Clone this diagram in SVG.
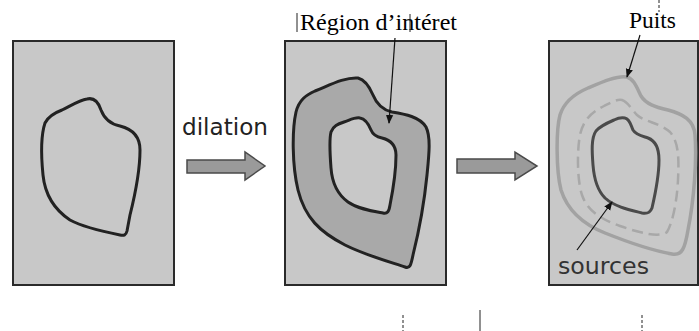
<svg xmlns="http://www.w3.org/2000/svg" width="699" height="331" viewBox="0 0 699 331">
<style>
.panel{fill:#c8c8c8;stroke:#2a2a2a;stroke-width:2}
.dark{fill:none;stroke:#222;stroke-width:3;stroke-linejoin:round}
.block{fill:#9a9a9a;stroke:#4a4a4a;stroke-width:1.5}
.serif{font-family:"Liberation Serif","Times New Roman",serif;font-size:24px;fill:#000}
.sans{font-family:"DejaVu Sans",Verdana,sans-serif;font-size:23px}
.lead{stroke:#111;stroke-width:1.2;fill:none;marker-end:url(#ah)}
.tick{stroke:#222;stroke-width:1}
</style>
<defs>
<marker id="ah" viewBox="0 0 10 10" refX="9" refY="5" markerWidth="9" markerHeight="9" markerUnits="userSpaceOnUse" orient="auto">
<path d="M0,1 L10,5 L0,9 Z" fill="#111"/>
</marker>
</defs>
<rect width="699" height="331" fill="#fff"/>

<g id="panel1">
<rect class="panel" x="13" y="41" width="161" height="244"/>
<path class="dark" d="M 87,99 C 95,97 99,104 101,110 C 104,118 110,124 120,126 C 132,129 140,136 140,150 C 140,170 135,195 130,215 L 127,231 C 126,235 124,236 120,235 C 105,232 85,228 70,220 C 55,210 45,195 43,175 C 41,155 41,135 45,123 C 48,117 54,113 62,110 C 72,105 80,100 87,99 Z"/>
</g>

<g id="panel2">
<rect class="panel" x="285" y="41" width="161" height="244"/>
<path class="dark" style="fill:#a9a9a9" d="M 358,78 C 366,80 370,88 373,95 C 377,105 383,110 392,112 C 405,114 420,117 426,127 C 431,137 429,155 427,175 C 424,205 418,235 413,255 C 411,265 410,269 405,267 C 390,262 365,255 345,245 C 320,232 305,218 298,190 C 292,165 292,130 296,112 C 299,100 306,95 315,91 C 330,85 345,77 358,78 Z"/>
<path class="dark" style="fill:#c8c8c8" d="M 360,118 C 366,119 369,125 371,130 C 373,135 377,137 382,138 C 390,140 396,145 396,155 C 396,170 393,190 390,205 C 389,212 387,214 383,213 C 372,211 358,209 348,202 C 337,194 332,182 331,168 C 330,155 329,140 331,132 C 333,126 338,124 344,122 C 350,120 355,117 360,118 Z"/>
</g>

<g id="panel3">
<rect class="panel" x="549" y="41" width="149" height="244"/>
<path fill="none" stroke="#a2a2a2" stroke-width="3.5" stroke-linejoin="round" d="M 627,77 C 634,79 637,88 641,96 C 646,104 655,107 668,110 C 683,114 694,120 695,135 C 697,160 694,200 688,230 C 685,248 682,256 672,254 C 655,251 630,243 605,233 C 585,225 568,212 561,190 C 556,170 556,130 560,115 C 564,102 574,94 588,88 C 602,82 618,75 627,77 Z"/>
<path fill="none" stroke="#a8a8a8" stroke-width="2.5" stroke-dasharray="11 6" d="M 622,100 C 628,102 632,110 637,115 C 645,122 660,123 670,132 C 679,142 679,160 678,180 C 677,200 673,222 667,232 C 660,238 640,233 620,226 C 600,219 587,210 582,195 C 577,180 577,150 580,135 C 583,120 592,112 604,106 C 612,102 617,99 622,100 Z"/>
<path fill="none" stroke="#4a4a4a" stroke-width="3" stroke-linejoin="round" d="M 625,118 C 630,119 631,126 633,130 C 636,135 642,136 648,138 C 656,141 659,148 659,160 C 659,175 655,195 652,208 C 650,213 647,214 642,213 C 630,210 615,207 605,198 C 597,190 594,178 593,165 C 592,152 591,138 596,131 C 600,126 607,123 614,120 C 618,118 621,117 625,118 Z"/>
</g>

<g id="connectors">
<path class="block" d="M 187,160 L 245,160 L 245,152 L 265,166 L 245,180 L 245,173 L 187,173 Z"/>
<path class="block" d="M 457,159 L 515,159 L 515,152 L 537,166 L 515,180 L 515,173 L 457,173 Z"/>
<line class="lead" x1="395" y1="38" x2="389" y2="123"/>
<line class="lead" x1="640" y1="35" x2="627" y2="77"/>
<line class="lead" x1="577" y1="250" x2="612" y2="202"/>
</g>

<g id="labels">
<text class="sans" x="182" y="135" fill="#222" textLength="86" lengthAdjust="spacingAndGlyphs">dilation</text>
<text class="serif" x="300" y="30" textLength="157" lengthAdjust="spacingAndGlyphs">Région d’intéret</text>
<text class="serif" x="629" y="28" textLength="47" lengthAdjust="spacingAndGlyphs">Puits</text>
<text class="sans" x="558" y="274" fill="#333" textLength="91" lengthAdjust="spacingAndGlyphs">sources</text>
</g>

<g id="marks">
<line class="tick" x1="297" y1="13" x2="297" y2="32"/>
<line class="tick" x1="410" y1="14" x2="410" y2="32"/>
<line class="tick" x1="659" y1="0" x2="659" y2="12" stroke-dasharray="3 2"/>
<line class="tick" x1="403" y1="315" x2="403" y2="331" stroke-dasharray="3 2"/>
<line class="tick" x1="480" y1="310" x2="480" y2="331"/>
<line class="tick" x1="642" y1="315" x2="642" y2="331" stroke-dasharray="3 2"/>
</g>
</svg>
